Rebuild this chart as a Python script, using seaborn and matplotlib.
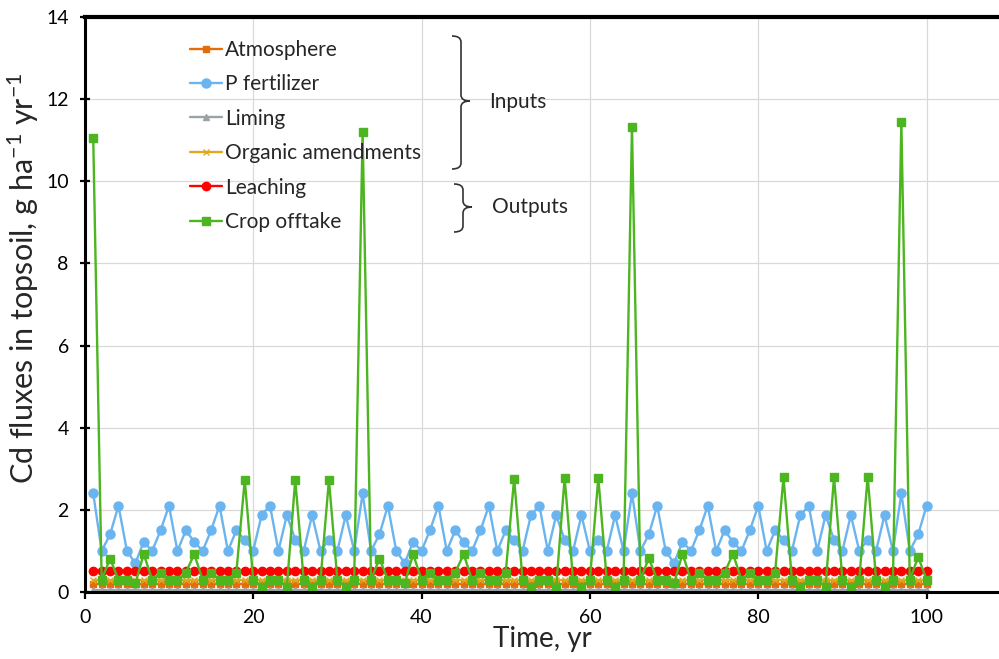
import numpy as np
import pandas as pd
import seaborn as sns
import matplotlib.pyplot as plt
from matplotlib.path import Path
from matplotlib.patches import PathPatch

years = list(range(1, 101))

atmosphere = [
    0.20, 0.20, 0.20, 0.20, 0.20, 0.20, 0.20, 0.20, 0.20, 0.20,
    0.20, 0.20, 0.20, 0.20, 0.20, 0.20, 0.20, 0.20, 0.20, 0.20,
    0.20, 0.20, 0.20, 0.20, 0.20, 0.20, 0.20, 0.20, 0.20, 0.20,
    0.20, 0.20, 0.20, 0.20, 0.20, 0.20, 0.20, 0.20, 0.20, 0.20,
    0.20, 0.20, 0.20, 0.20, 0.20, 0.20, 0.20, 0.20, 0.20, 0.20,
    0.20, 0.20, 0.20, 0.20, 0.20, 0.20, 0.20, 0.20, 0.20, 0.20,
    0.20, 0.20, 0.20, 0.20, 0.20, 0.20, 0.20, 0.20, 0.20, 0.20,
    0.20, 0.20, 0.20, 0.20, 0.20, 0.20, 0.20, 0.20, 0.20, 0.20,
    0.20, 0.20, 0.20, 0.20, 0.20, 0.20, 0.20, 0.20, 0.20, 0.20,
    0.20, 0.20, 0.20, 0.20, 0.20, 0.20, 0.20, 0.20, 0.20, 0.20,
]

p_fertilizer = [
    2.40, 1.00, 1.40, 2.10, 1.00, 0.70, 1.22, 1.00, 1.50, 2.10,
    1.00, 1.50, 1.22, 1.00, 1.50, 2.10, 1.00, 1.50, 1.27, 1.00,
    1.87, 2.10, 1.00, 1.87, 1.27, 1.00, 1.87, 1.00, 1.27, 1.00,
    1.87, 1.00, 2.40, 1.00, 1.40, 2.10, 1.00, 0.70, 1.22, 1.00,
    1.50, 2.10, 1.00, 1.50, 1.22, 1.00, 1.50, 2.10, 1.00, 1.50,
    1.27, 1.00, 1.87, 2.10, 1.00, 1.87, 1.27, 1.00, 1.87, 1.00,
    1.27, 1.00, 1.87, 1.00, 2.40, 1.00, 1.40, 2.10, 1.00, 0.70,
    1.22, 1.00, 1.50, 2.10, 1.00, 1.50, 1.22, 1.00, 1.50, 2.10,
    1.00, 1.50, 1.27, 1.00, 1.87, 2.10, 1.00, 1.87, 1.27, 1.00,
    1.87, 1.00, 1.27, 1.00, 1.87, 1.00, 2.40, 1.00, 1.40, 2.10,
]

liming = [
    0.05, 0.05, 0.05, 0.05, 0.05, 0.05, 0.05, 0.05, 0.05, 0.05,
    0.05, 0.05, 0.05, 0.05, 0.05, 0.05, 0.05, 0.05, 0.05, 0.05,
    0.05, 0.05, 0.05, 0.05, 0.05, 0.05, 0.05, 0.05, 0.05, 0.05,
    0.05, 0.05, 0.05, 0.05, 0.05, 0.05, 0.05, 0.05, 0.05, 0.05,
    0.05, 0.05, 0.05, 0.05, 0.05, 0.05, 0.05, 0.05, 0.05, 0.05,
    0.05, 0.05, 0.05, 0.05, 0.05, 0.05, 0.05, 0.05, 0.05, 0.05,
    0.05, 0.05, 0.05, 0.05, 0.05, 0.05, 0.05, 0.05, 0.05, 0.05,
    0.05, 0.05, 0.05, 0.05, 0.05, 0.05, 0.05, 0.05, 0.05, 0.05,
    0.05, 0.05, 0.05, 0.05, 0.05, 0.05, 0.05, 0.05, 0.05, 0.05,
    0.05, 0.05, 0.05, 0.05, 0.05, 0.05, 0.05, 0.05, 0.05, 0.05,
]

organic = [
    0.28, 0.28, 0.28, 0.28, 0.28, 0.28, 0.28, 0.28, 0.28, 0.28,
    0.28, 0.28, 0.28, 0.28, 0.28, 0.28, 0.28, 0.28, 0.28, 0.28,
    0.28, 0.28, 0.28, 0.28, 0.28, 0.28, 0.28, 0.28, 0.28, 0.28,
    0.28, 0.28, 0.28, 0.28, 0.28, 0.28, 0.28, 0.28, 0.28, 0.28,
    0.28, 0.28, 0.28, 0.28, 0.28, 0.28, 0.28, 0.28, 0.28, 0.28,
    0.28, 0.28, 0.28, 0.28, 0.28, 0.28, 0.28, 0.28, 0.28, 0.28,
    0.28, 0.28, 0.28, 0.28, 0.28, 0.28, 0.28, 0.28, 0.28, 0.28,
    0.28, 0.28, 0.28, 0.28, 0.28, 0.28, 0.28, 0.28, 0.28, 0.28,
    0.28, 0.28, 0.28, 0.28, 0.28, 0.28, 0.28, 0.28, 0.28, 0.28,
    0.28, 0.28, 0.28, 0.28, 0.28, 0.28, 0.28, 0.28, 0.28, 0.28,
]

leaching = [
    0.52, 0.52, 0.52, 0.52, 0.52, 0.52, 0.52, 0.52, 0.52, 0.52,
    0.52, 0.52, 0.52, 0.52, 0.52, 0.52, 0.52, 0.52, 0.52, 0.52,
    0.52, 0.52, 0.52, 0.52, 0.52, 0.52, 0.52, 0.52, 0.52, 0.52,
    0.52, 0.52, 0.52, 0.52, 0.52, 0.52, 0.52, 0.52, 0.52, 0.52,
    0.52, 0.52, 0.52, 0.52, 0.52, 0.52, 0.52, 0.52, 0.52, 0.52,
    0.52, 0.52, 0.52, 0.52, 0.52, 0.52, 0.52, 0.52, 0.52, 0.52,
    0.52, 0.52, 0.52, 0.52, 0.52, 0.52, 0.52, 0.52, 0.52, 0.52,
    0.52, 0.52, 0.52, 0.52, 0.52, 0.52, 0.52, 0.52, 0.52, 0.52,
    0.52, 0.52, 0.52, 0.52, 0.52, 0.52, 0.52, 0.52, 0.52, 0.52,
    0.52, 0.52, 0.52, 0.52, 0.52, 0.52, 0.52, 0.52, 0.52, 0.52,
]

crop_offtake = [
    11.05, 0.30, 0.81, 0.30, 0.30, 0.21, 0.92, 0.30, 0.47, 0.30,
    0.30, 0.47, 0.92, 0.30, 0.47, 0.30, 0.30, 0.47, 2.73, 0.30,
    0.13, 0.30, 0.30, 0.13, 2.73, 0.30, 0.13, 0.30, 2.73, 0.30,
    0.13, 0.30, 11.20, 0.30, 0.81, 0.30, 0.30, 0.21, 0.92, 0.30,
    0.47, 0.30, 0.30, 0.47, 0.92, 0.30, 0.47, 0.30, 0.30, 0.47,
    2.76, 0.30, 0.13, 0.30, 0.30, 0.13, 2.78, 0.30, 0.13, 0.30,
    2.78, 0.30, 0.13, 0.30, 11.33, 0.30, 0.82, 0.30, 0.30, 0.21,
    0.93, 0.30, 0.47, 0.30, 0.30, 0.47, 0.93, 0.30, 0.47, 0.30,
    0.30, 0.47, 2.79, 0.30, 0.13, 0.30, 0.30, 0.13, 2.80, 0.30,
    0.13, 0.30, 2.81, 0.30, 0.13, 0.30, 11.45, 0.30, 0.85, 0.30,
]

series = [
    ('Atmosphere', atmosphere, '#E46C0A', 's', 4),
    ('P fertilizer', p_fertilizer, '#6AB4F0', 'o', 6.5),
    ('Liming', liming, '#9AA3A6', '^', 5),
    ('Organic amendments', organic, '#E0A81E', 'x', 5),
    ('Leaching', leaching, '#FF0000', 'o', 6),
    ('Crop offtake', crop_offtake, '#4CB520', 's', 6),
]

sns.set_style('white')
plt.rcParams['font.family'] = ['Lato', 'DejaVu Sans']
plt.rcParams['mathtext.default'] = 'regular'

fig = plt.figure(figsize=(9.99, 6.59), dpi=100)
ax = fig.add_axes([0.0849, 0.1017, 0.9151, 0.8725])

for name, vals, col, mk, ms in series:
    df = pd.DataFrame({'Time': years, 'Flux': vals})
    sns.lineplot(data=df, x='Time', y='Flux', ax=ax, color=col, marker=mk,
                 markersize=ms, markeredgecolor=col, markeredgewidth=1,
                 linewidth=1.7, label=name)

ax.set_xlim(0, 108.6)
ax.set_ylim(0, 14)
ax.set_xticks([0, 20, 40, 60, 80, 100])
ax.set_yticks(range(0, 15, 2))
ax.grid(True, color='#D9D9D9', linewidth=0.9)
ax.set_axisbelow(True)

for side in ['left', 'bottom']:
    ax.spines[side].set_linewidth(2.2)
    ax.spines[side].set_color('black')
ax.spines['top'].set_linewidth(3)
ax.spines['top'].set_color('black')
ax.spines['right'].set_visible(False)

ax.tick_params(axis='y', direction='inout', length=7, width=1.6, pad=8,
               labelsize=14, colors='black', left=True)
ax.tick_params(axis='x', direction='out', length=5, width=1.6, pad=7,
               labelsize=14, colors='black', bottom=True)

ax.set_xlabel('Time, yr', fontsize=20, labelpad=0)
ax.set_ylabel(r'Cd fluxes in topsoil, g ha$^{-1}$ yr$^{-1}$', fontsize=22)
ax.yaxis.set_label_coords(-0.048, 0.545)

ax.legend(loc='upper left', bbox_to_anchor=(190 / 999, 1 - 40 / 659),
          bbox_transform=fig.transFigure, frameon=False, fontsize=15,
          handlelength=1.55, handletextpad=0.15, labelspacing=0.69,
          borderpad=0, borderaxespad=0)


def px(x, y):
    return (x / 999, 1 - y / 659)


def brace(xl, xv, xt, ytop, ymid, ybot):
    verts = [px(xl, ytop), px(xv, ytop), px(xv, ytop + 6),
             px(xv, ymid - 6), px(xv, ymid), px(xt, ymid),
             px(xv, ymid), px(xv, ymid + 6),
             px(xv, ybot - 6), px(xv, ybot), px(xl, ybot)]
    codes = [Path.MOVETO, Path.CURVE3, Path.CURVE3,
             Path.LINETO, Path.CURVE3, Path.CURVE3,
             Path.CURVE3, Path.CURVE3,
             Path.LINETO, Path.CURVE3, Path.CURVE3]
    fig.patches.append(PathPatch(Path(verts, codes), fill=False, edgecolor='#333333',
                                 linewidth=1.2, transform=fig.transFigure))


brace(452, 461, 470, 36, 101, 169)
brace(454, 463, 472, 184, 207, 232)
fig.text(489 / 999, 1 - 102 / 659, 'Inputs', fontsize=15, va='center', ha='left')
fig.text(492 / 999, 1 - 207 / 659, 'Outputs', fontsize=15, va='center', ha='left')

plt.savefig('out.png', dpi=100)
